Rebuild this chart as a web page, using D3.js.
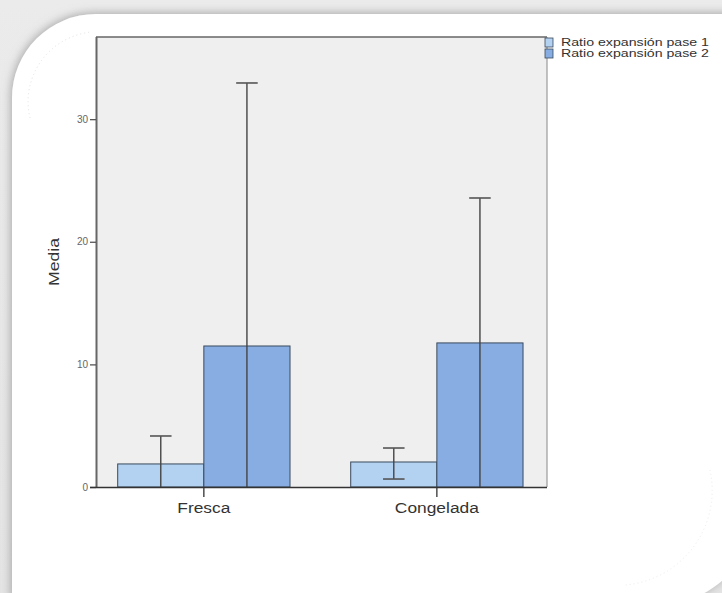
<!DOCTYPE html>
<html><head><meta charset="utf-8">
<script src="https://cdn.jsdelivr.net/npm/d3@7"></script>
<style>body{margin:0;background:#e8e8e8;} svg{display:block}</style>
</head><body><svg id="c" width="722" height="593"></svg>
<script>
const categories = ["Fresca", "Congelada"];
const seriesNames = ["Ratio expansión pase 1", "Ratio expansión pase 2"];
const meanPase1 = [1.88, 2.04];
const meanPase2 = [11.5, 11.75];
const upperPase1 = [4.16, 3.18];
const lowerPase1 = [-0.4, 0.65];
const upperPase2 = [32.95, 23.57];
const lowerPase2 = [-9.9, -0.07];
const yTicks = [0, 10, 20, 30];
const yMax = 36.7;

const seriesColors = ["#b3d1f1", "#88ade3"];
const means = [meanPase1, meanPase2];
const uppers = [upperPase1, upperPase2];
const lowers = [lowerPase1, lowerPase2];

const svg = d3.select("#c");
const W = 722, H = 593;
const m = {l: 96, r: 547, t: 37, b: 487};

// background & card
const defs = svg.append("defs");
const sh = defs.append("filter").attr("id", "sh").attr("x", "-10%").attr("y", "-10%").attr("width", "120%").attr("height", "120%");
sh.append("feDropShadow").attr("dx", -1).attr("dy", -1).attr("stdDeviation", 5).attr("flood-color", "#8a8a8a").attr("flood-opacity", 0.7);
const bgGrad = defs.append("linearGradient").attr("id", "bg").attr("x1", 0).attr("y1", 0).attr("x2", 0).attr("y2", 1);
bgGrad.append("stop").attr("offset", "0").attr("stop-color", "#ebebeb");
bgGrad.append("stop").attr("offset", "1").attr("stop-color", "#e4e4e4");
svg.append("rect").attr("width", W).attr("height", H).attr("fill", "url(#bg)");
svg.append("path")
  .attr("d", "M12,98 A84,84 0 0 1 96,14 H760 V488 A108,108 0 0 1 616,600 H12 Z")
  .attr("fill", "#ffffff").attr("filter", "url(#sh)");
// faint dotted arcs
svg.append("path").attr("d", "M30,118 A70,70 0 0 1 92,32")
  .attr("fill", "none").attr("stroke", "#e2e2e2").attr("stroke-dasharray", "1,3");
svg.append("path").attr("d", "M710,470 A95,95 0 0 1 625,585")
  .attr("fill", "none").attr("stroke", "#ececec").attr("stroke-dasharray", "1,3");

// scales
const x0 = d3.scaleBand().domain(categories).range([m.l, m.r])
  .paddingInner(0.2605).paddingOuter(0.098).align(0.475);
const x1 = d3.scaleBand().domain(seriesNames).range([0, x0.bandwidth()]).padding(0);
const y = d3.scaleLinear().domain([0, yMax]).range([m.b, m.t]);

// plot background
svg.append("rect").attr("x", m.l).attr("y", m.t).attr("width", m.r - m.l).attr("height", m.b - m.t)
  .attr("fill", "#efefef");

defs.append("clipPath").attr("id", "clip").append("rect")
  .attr("x", m.l).attr("y", m.t).attr("width", m.r - m.l).attr("height", m.b - m.t);

const g = svg.append("g").attr("clip-path", "url(#clip)");

// bars
seriesNames.forEach((s, si) => {
  g.selectAll(".bar" + si).data(categories).enter().append("rect")
    .attr("x", c => x0(c) + x1(s))
    .attr("y", (c, i) => y(means[si][i]))
    .attr("width", x1.bandwidth())
    .attr("height", (c, i) => y(0) - y(means[si][i]))
    .attr("fill", seriesColors[si])
    .attr("stroke", "#3a4a5c").attr("stroke-width", 1);
});

// error bars
const capHalf = x1.bandwidth() * 0.125;
seriesNames.forEach((s, si) => {
  categories.forEach((c, i) => {
    const cx = x0(c) + x1(s) + x1.bandwidth() / 2;
    const yu = y(uppers[si][i]), yl = y(lowers[si][i]);
    g.append("line").attr("x1", cx).attr("x2", cx).attr("y1", yu).attr("y2", yl)
      .attr("stroke", "#444").attr("stroke-width", 1.4);
    [uppers[si][i], lowers[si][i]].forEach(v => {
      if (v >= 0) {
        g.append("line").attr("x1", cx - capHalf).attr("x2", cx + capHalf)
          .attr("y1", y(v)).attr("y2", y(v))
          .attr("stroke", "#555").attr("stroke-width", 1.6);
      }
    });
  });
});

// frame
svg.append("line").attr("x1", m.l).attr("x2", m.r).attr("y1", m.t).attr("y2", m.t)
  .attr("stroke", "#666").attr("stroke-width", 1.5);
svg.append("line").attr("x1", m.r).attr("x2", m.r).attr("y1", m.t).attr("y2", m.b)
  .attr("stroke", "#888").attr("stroke-width", 1);

// y axis
const yAxis = d3.axisLeft(y).tickValues(yTicks).tickSize(6).tickPadding(2).tickFormat(d3.format("d"));
const ya = svg.append("g").attr("transform", `translate(${m.l},0)`).call(yAxis);
ya.select(".domain").attr("stroke", "#666").attr("stroke-width", 2).attr("d", `M0.5,${m.t}V${m.b}`);
ya.selectAll(".tick line").attr("stroke", "#555").attr("stroke-width", 1.3);
ya.selectAll(".tick text").attr("fill", "#666").attr("font-family", "Liberation Sans, Arial, sans-serif").attr("font-size", 10);

// x axis
const xAxis = d3.axisBottom(x0).tickSize(10).tickPadding(6);
const xa = svg.append("g").attr("transform", `translate(0,${m.b})`).call(xAxis);
xa.select(".domain").attr("stroke", "#333").attr("stroke-width", 1.3).attr("d", `M${m.l - 6},0.5H${m.r}`);
xa.selectAll(".tick line").attr("stroke", "#333").attr("stroke-width", 1.3);
xa.selectAll(".tick text").attr("fill", "#333").attr("font-family", "Liberation Sans, Arial, sans-serif")
  .attr("font-size", 14)
  .attr("textLength", d => d === "Fresca" ? 53 : 84)
  .attr("lengthAdjust", "spacingAndGlyphs");

// y label
svg.append("text").attr("transform", `translate(59,262) rotate(-90)`)
  .attr("text-anchor", "middle").attr("fill", "#333")
  .attr("font-family", "Liberation Sans, Arial, sans-serif").attr("font-size", 14)
  .attr("textLength", 48).attr("lengthAdjust", "spacingAndGlyphs")
  .text("Media");

// legend
const lg = svg.append("g");
seriesNames.forEach((s, i) => {
  const yy = 38 + i * 11;
  lg.append("rect").attr("x", 545).attr("y", yy).attr("width", 8).attr("height", 9)
    .attr("fill", seriesColors[i]).attr("stroke", "#3a4a5c").attr("stroke-width", 0.8);
  lg.append("text").attr("x", 561).attr("y", yy + 8).attr("fill", "#333")
    .attr("font-family", "Liberation Sans, Arial, sans-serif").attr("font-size", 10)
    .attr("textLength", 148).attr("lengthAdjust", "spacingAndGlyphs")
    .text(s);
});
</script></body></html>
